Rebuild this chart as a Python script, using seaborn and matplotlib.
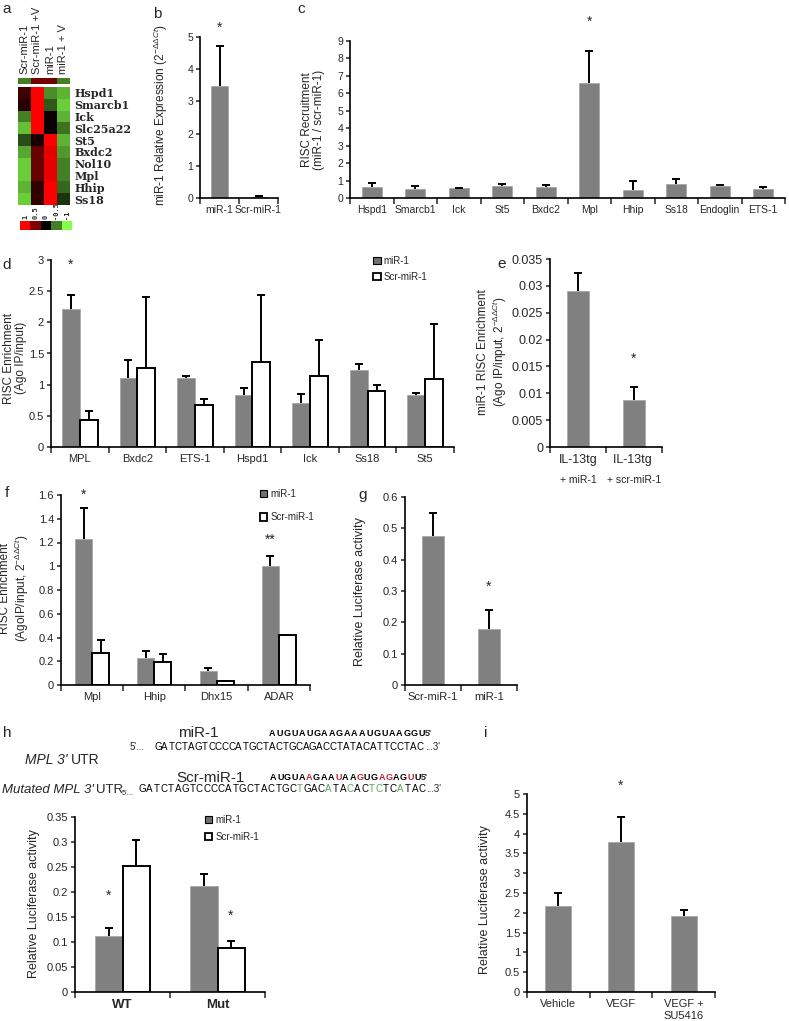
import numpy as np
import pandas as pd
import matplotlib
matplotlib.use('Agg')
import matplotlib.pyplot as plt
import seaborn as sns
from matplotlib.colors import LinearSegmentedColormap
from matplotlib.patches import Patch

# ---- data ----
heat_cols = ['Scr-miR-1', 'Scr-miR-1 +V', 'miR-1', 'miR-1 + V']
heat_genes = ['Hspd1', 'Smarcb1', 'Ick', 'Slc25a22', 'St5', 'Bxdc2', 'Nol10', 'Mpl', 'Hhip', 'Ss18']
heat_top = [-0.5, 0.45, 0.45, -0.5]
heat_vals = [[0.25, 1.0, -0.55, -0.7],
             [0.15, 1.0, -0.35, -0.8],
             [-0.5, 1.0, 0.05, -0.7],
             [-0.75, 1.0, 0.05, -0.45],
             [-0.3, 0.1, 1.0, -0.7],
             [-0.65, 0.4, 0.9, -0.6],
             [-0.8, 0.4, 0.9, -0.5],
             [-0.8, 0.4, 0.9, -0.5],
             [-0.7, 0.2, 1.0, -0.4],
             [-0.8, 0.2, 1.0, -0.2]]
key_vals = [1, 0.5, 0, -0.5, -1]
key_labels = ['1', '0.5', '0', '-0.5', '-1']

b_labels = ['miR-1', 'Scr-miR-1']
b_vals = [3.48, 0.03]
b_err = [1.25, 0.02]

c_genes = ['Hspd1', 'Smarcb1', 'Ick', 'St5', 'Bxdc2', 'Mpl', 'Hhip', 'Ss18', 'Endoglin', 'ETS-1']
c_vals = [0.65, 0.50, 0.55, 0.70, 0.62, 6.62, 0.47, 0.80, 0.68, 0.52]
c_err = [0.20, 0.18, 0.05, 0.08, 0.10, 1.78, 0.48, 0.27, 0.06, 0.10]

d_genes = ['MPL', 'Bxdc2', 'ETS-1', 'Hspd1', 'Ick', 'Ss18', 'St5']
d_mir = [2.22, 1.11, 1.10, 0.84, 0.70, 1.24, 0.84]
d_mir_err = [0.22, 0.29, 0.04, 0.11, 0.15, 0.09, 0.02]
d_scr = [0.44, 1.26, 0.67, 1.37, 1.14, 0.90, 1.09]
d_scr_err = [0.14, 1.14, 0.10, 1.07, 0.58, 0.10, 0.89]

e_labels = ['IL-13tg', 'IL-13tg ']
e_sub = ['+ miR-1', '+ scr-miR-1']
e_vals = [0.0291, 0.0088]
e_err = [0.0033, 0.0024]

f_genes = ['Mpl', 'Hhip', 'Dhx15', 'ADAR']
f_mir = [1.23, 0.23, 0.12, 1.00]
f_mir_err = [0.26, 0.06, 0.02, 0.09]
f_scr = [0.27, 0.19, 0.03, 0.42]
f_scr_err = [0.11, 0.07, 0.005, 0.005]

g_labels = ['Scr-miR-1', 'miR-1']
g_vals = [0.475, 0.18]
g_err = [0.075, 0.06]

h_groups = ['WT', 'Mut']
h_mir = [0.113, 0.213]
h_mir_err = [0.015, 0.024]
h_scr = [0.253, 0.088]
h_scr_err = [0.052, 0.015]

i_labels = ['Vehicle', 'VEGF', 'VEGF +\nSU5416']
i_vals = [2.17, 3.80, 1.92]
i_err = [0.34, 0.62, 0.16]

seq_mir = 'AUGUAUGAAGAAAUGUAAGGU'
seq_scr = 'AUGUAAGAAUAAGUGAGAGUU'
seq_utr = 'GATCTAGTCCCCATGCTACTGCAGACCTATACATTCCTAC'
seq_mut = 'GATCTAGTCCCCATGCTACTGCTGACATACACTCTCATAC'

# ---- setup ----
W, H = 789, 1021
GREY = '#808080'
sns.set_theme(style='ticks')
plt.rcParams['font.family'] = ['Liberation Sans', 'DejaVu Sans']
plt.rcParams['mathtext.fontset'] = 'custom'
plt.rcParams['mathtext.rm'] = 'Liberation Sans'
plt.rcParams['mathtext.it'] = 'Liberation Sans:italic'

fig = plt.figure(figsize=(W / 100, H / 100), dpi=100)


def rect(x0, x1, ytop, ybot):
    return [x0 / W, 1 - ybot / H, (x1 - x0) / W, (ybot - ytop) / H]


def ftext(x, y, s, **kw):
    return fig.text(x / W, 1 - y / H, s, **kw)


def add_err(ax, bars, errs):
    xs = [p.get_x() + p.get_width() / 2 for p in bars]
    ys = [p.get_height() for p in bars]
    eb = ax.errorbar(xs, ys, yerr=[np.zeros(len(errs)), errs], fmt='none',
                     ecolor='black', elinewidth=1.4, capsize=3, capthick=1.4, zorder=3)
    eb[1][0].set_visible(False)


def finish(ax, ymax, step, n, fs=8, xlim=None):
    ax.set_xlim(xlim if xlim else (-0.5, n - 0.5))
    ax.set_ylim(0, ymax)
    ax.set_yticks(np.arange(0, ymax + step / 2, step))
    ax.set_yticklabels(['%g' % round(v, 4) for v in np.arange(0, ymax + step / 2, step)])
    sns.despine(ax=ax)
    ax.set_xticks(np.arange(-0.5, n), minor=True)
    ax.tick_params(axis='x', which='major', length=0, pad=5, labelsize=fs)
    ax.tick_params(axis='x', which='minor', length=4, width=1.1, direction='out')
    ax.tick_params(axis='y', length=3, width=1.1, labelsize=fs, pad=2)
    ax.set_xlabel('')
    ax.set_ylabel('')
    for s in ['left', 'bottom']:
        ax.spines[s].set_linewidth(1.2)
        ax.spines[s].set_color('black')


def bars(r, labels, vals, errs, width, ymax, step, fs=8, xlim=None):
    ax = fig.add_axes(r)
    sns.barplot(x=labels, y=vals, color=GREY, saturation=1, width=width,
                errorbar=None, edgecolor='#a8a8a8', linewidth=0.6, ax=ax)
    add_err(ax, ax.containers[0], errs)
    finish(ax, ymax, step, len(labels), fs, xlim)
    return ax


def gbars(r, labels, mir, mir_e, scr, scr_e, width, ymax, step, fs=8):
    ax = fig.add_axes(r)
    n = len(labels)
    df = pd.DataFrame({'gene': labels * 2, 'val': mir + scr,
                       'grp': ['miR-1'] * n + ['Scr-miR-1'] * n})
    sns.barplot(data=df, x='gene', y='val', hue='grp',
                palette={'miR-1': GREY, 'Scr-miR-1': 'white'}, saturation=1,
                width=width, errorbar=None, legend=False, ax=ax)
    for p in ax.containers[0]:
        p.set_edgecolor('#a8a8a8')
        p.set_linewidth(0.6)
    for p in ax.containers[1]:
        p.set_edgecolor('black')
        p.set_linewidth(1.4)
    add_err(ax, ax.containers[0], mir_e)
    add_err(ax, ax.containers[1], scr_e)
    finish(ax, ymax, step, n, fs)
    return ax


def legend(ax, anchor, spacing):
    h = [Patch(facecolor='#707070', edgecolor='black', lw=0.8),
         Patch(facecolor='white', edgecolor='black', lw=1.3)]
    ax.legend(h, ['miR-1', 'Scr-miR-1'], loc='upper left', bbox_to_anchor=anchor,
              frameon=False, fontsize=7, handlelength=0.75, handleheight=0.75,
              handletextpad=0.3, labelspacing=spacing, borderaxespad=0, borderpad=0)


def star(ax, x, y, s='*'):
    ax.text(x, y, s, ha='center', va='center', fontsize=10, clip_on=False)


# ---- a: heatmap ----
cmap = LinearSegmentedColormap.from_list('rg', ['#86ff4a', '#000000', '#ff0000'])
ax_top = fig.add_axes(rect(18, 70, 78, 84))
sns.heatmap([heat_top], ax=ax_top, cmap=cmap, vmin=-1, vmax=1, cbar=False,
            xticklabels=heat_cols, yticklabels=False)
ax_top.xaxis.set_ticks_position('top')
ax_top.tick_params(length=0, pad=3)
ax_top.set_xticklabels(heat_cols, rotation=90, fontsize=8)

ax_heat = fig.add_axes(rect(18, 70, 87, 205))
sns.heatmap(heat_vals, ax=ax_heat, cmap=cmap, vmin=-1, vmax=1, cbar=False,
            xticklabels=False, yticklabels=heat_genes)
ax_heat.yaxis.tick_right()
ax_heat.tick_params(length=0, pad=3)
ax_heat.set_yticklabels(heat_genes, rotation=0, fontsize=8,
                        fontfamily='DejaVu Serif', fontweight='bold')

ax_key = fig.add_axes(rect(20, 72, 221, 230))
sns.heatmap([key_vals], ax=ax_key, cmap=cmap, vmin=-1, vmax=1, cbar=False,
            xticklabels=key_labels, yticklabels=False)
ax_key.xaxis.set_ticks_position('top')
ax_key.tick_params(length=0, pad=1.5)
ax_key.set_xticklabels(key_labels, rotation=90, fontsize=5,
                       fontfamily='DejaVu Sans Mono', fontweight='bold')

# ---- b ----
ax_b = bars(rect(200, 278, 37, 198), b_labels, b_vals, b_err, 0.43, 5, 1,
            fs=7.5, xlim=(-0.27, 1.5))
star(ax_b, 0, 5.3)
ftext(161, 115, r'miR-1 Relative Expression (2$^{-\Delta\Delta Ct}$)',
      rotation=90, ha='center', va='center', fontsize=8.5)

# ---- c ----
ax_c = bars(rect(350, 785, 41, 198), c_genes, c_vals, c_err, 0.45, 9, 1, fs=7.5)
star(ax_c, 5, 10.1)
ftext(313, 120, 'RISC Recruitment\n(miR-1 / scr-miR-1)', rotation=90,
      ha='center', va='center', fontsize=8.5, linespacing=1.1)

# ---- d ----
ax_d = gbars(rect(51, 454, 260, 447), d_genes, d_mir, d_mir_err, d_scr, d_scr_err,
             0.62, 3, 0.5)
legend(ax_d, (0.80, 1.02), 0.55)
star(ax_d, -0.155, 2.93)
ftext(15, 358, 'RISC Enrichment\n(Ago IP/input)', rotation=90,
      ha='center', va='center', fontsize=8.5, linespacing=1.1)

# ---- e ----
ax_e = bars(rect(550, 662, 259, 447), e_labels, e_vals, e_err, 0.38, 0.035, 0.005, fs=9)
for k, s in enumerate(e_sub):
    ax_e.text(k, -0.175, s, transform=ax_e.get_xaxis_transform(), ha='center',
              va='center', fontsize=7.5)
star(ax_e, 1, 0.0165)
ftext(493, 352, 'miR-1 RISC Enrichment\n' + r'(Ago IP/input, 2$^{-\Delta\Delta Ct}$)',
      rotation=90, ha='center', va='center', fontsize=8.5, linespacing=1.1)

# ---- f ----
ax_f = gbars(rect(61, 310, 495, 685), f_genes, f_mir, f_mir_err, f_scr, f_scr_err,
             0.55, 1.6, 0.2)
legend(ax_f, (0.80, 1.03), 1.35)
star(ax_f, -0.14, 1.6)
star(ax_f, 2.86, 1.22, '**')
ftext(15, 588, 'RISC Enrichment\n' + r'(AgoIP/input, 2$^{-\Delta\Delta Ct}$)',
      rotation=90, ha='center', va='center', fontsize=8.5, linespacing=1.1)

# ---- g ----
ax_g = bars(rect(405, 517, 497, 685), g_labels, g_vals, g_err, 0.39, 0.6, 0.1)
star(ax_g, 1, 0.315)
ftext(360, 592, 'Relative Luciferase activity', rotation=90,
      ha='center', va='center', fontsize=9)

# ---- h: sequences ----
renderer = fig.canvas.get_renderer()


def seq_row(x0, pitch, y, seq, ref=None, color='#5aa95a', size=7, weight='normal'):
    for k, ch in enumerate(seq):
        c = 'black'
        if ref is not None and ch != ref[k]:
            c = color
        ftext(x0 + k * pitch, y, ch, ha='center', va='center', fontsize=size,
              fontweight=weight, color=c)


ftext(198, 733, 'miR-1', ha='center', va='center', fontsize=11)
seq_row(272, 7.5, 733, seq_mir, size=6.5, weight='bold')
ftext(425, 733, "5'", ha='left', va='center', fontsize=6.5, fontweight='bold')
ftext(130, 747, "5'...", ha='left', va='center', fontsize=7)
seq_row(158, 6.72, 747, seq_utr)
ftext(425, 747, "...3'", ha='left', va='center', fontsize=7)
t = ftext(25, 760, "MPL 3'", ha='left', va='center', fontsize=10, style='italic')
bb = t.get_window_extent(renderer)
fig.text(bb.x1 / W + 3 / W, 1 - 760 / H, 'UTR', ha='left', va='center', fontsize=10)

ftext(211, 778, 'Scr-miR-1', ha='center', va='center', fontsize=11)
seq_row(273, 7.25, 777, seq_scr, ref=seq_mir, color='#c0262c', size=6.5, weight='bold')
ftext(421, 777, "5'", ha='left', va='center', fontsize=6.5, fontweight='bold')
ftext(122, 793, "5'...", ha='left', va='center', fontsize=5.5)
seq_row(142, 7.18, 789, seq_mut, ref=seq_utr)
ftext(426, 789, "...3'", ha='left', va='center', fontsize=7)
t = ftext(2, 790, "Mutated MPL 3'", ha='left', va='center', fontsize=9.5, style='italic')
bb = t.get_window_extent(renderer)
fig.text(bb.x1 / W + 2 / W, 1 - 790 / H, 'UTR', ha='left', va='center', fontsize=9.5)

# ---- h: chart ----
ax_h = gbars(rect(75, 265, 817, 992), h_groups, h_mir, h_mir_err, h_scr, h_scr_err,
             0.57, 0.35, 0.05)
for lab in ax_h.get_xticklabels():
    lab.set_fontweight('bold')
    lab.set_fontsize(9.5)
legend(ax_h, (0.685, 1.01), 0.65)
star(ax_h, -0.15, 0.192)
star(ax_h, 1.14, 0.152)
ftext(34, 904, 'Relative Luciferase activity', rotation=90,
      ha='center', va='center', fontsize=9)

# ---- i ----
ax_i = bars(rect(527, 715, 794, 992), i_labels, i_vals, i_err, 0.41, 5, 0.5)
star(ax_i, 1, 5.2)
ftext(485, 900, 'Relative Luciferase activity', rotation=90,
      ha='center', va='center', fontsize=9)

# ---- panel letters ----
for lab, x, y in [('a', 7, 9), ('b', 157, 14), ('c', 301, 9), ('d', 7, 265),
                  ('e', 502, 264), ('f', 7, 493), ('g', 363, 495),
                  ('h', 7, 733), ('i', 486, 733)]:
    ftext(x, y, lab, ha='center', va='center', fontsize=11)

fig.savefig('out.png', dpi=100)
